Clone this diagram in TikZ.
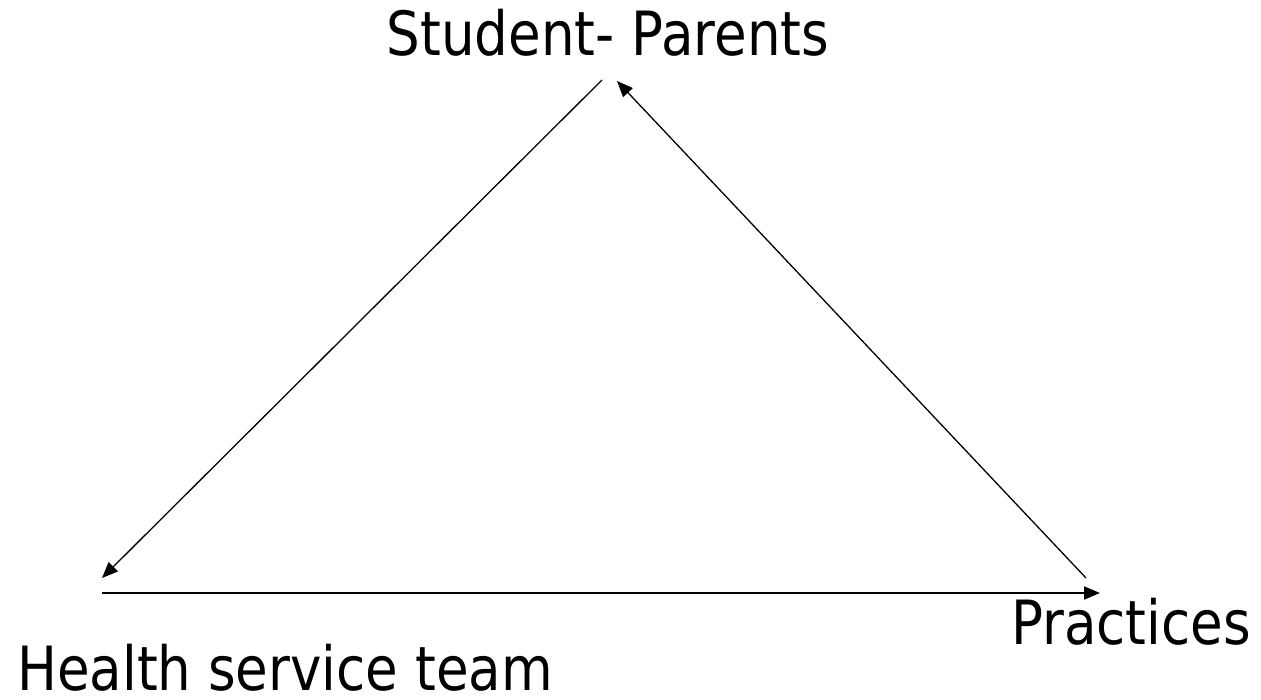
\documentclass[tikz,border=0pt]{standalone}
\usepackage{fontspec}
\setmainfont[FakeStretch=0.87]{DejaVu Sans}
\usetikzlibrary{arrows.meta}

\tikzset{
  lbl/.style={inner sep=0pt, font=\fontsize{61}{70}\selectfont},
  arr/.style={black, line width=1.3pt, -{Triangle[length=16pt,width=13pt]}}
}

\begin{document}
\begin{tikzpicture}[x=1pt,y=1pt]

\useasboundingbox (0,0) rectangle (1261,700);

\node[lbl, anchor=base] (sp) at (608, 644) {Student- Parents};

\node[lbl, anchor=base west] (pr) at (1011, 55) {Practices};

\node[lbl, anchor=base west] (hs) at (17, 9) {Health service team};

\coordinate (spl) at (602, 620);
\coordinate (spr) at (617, 619);
\coordinate (hsa) at (102, 122);
\coordinate (hsb) at (102, 107);
\coordinate (pra) at (1086, 122);
\coordinate (prb) at (1100, 107);

\draw[arr] (spl) -- (hsa);

\draw[arr] (pra) -- (spr);

\draw[arr, line width=2pt] (hsb) -- (prb);

\end{tikzpicture}
\end{document}
